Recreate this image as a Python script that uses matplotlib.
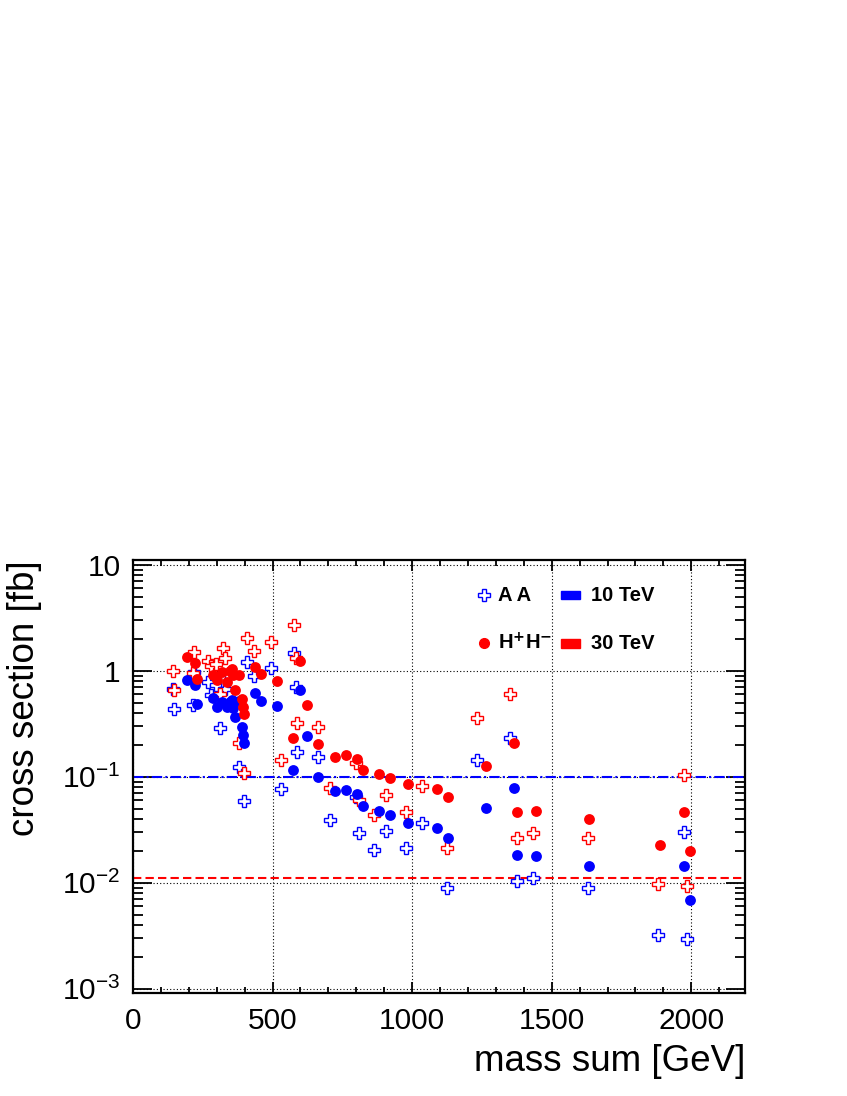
import numpy as np
import matplotlib
matplotlib.use('Agg')
import matplotlib.pyplot as plt
from matplotlib.ticker import FixedLocator, FixedFormatter, NullFormatter

plt.rcParams['font.family'] = ['Liberation Sans', 'DejaVu Sans']
plt.rcParams['mathtext.fontset'] = 'custom'
plt.rcParams['mathtext.rm'] = 'Liberation Sans'

# ---------------- data ----------------
# A A (open crosses): mass sum [GeV], sigma at 10 TeV and 30 TeV [fb]
aa_mass = [142, 147, 216, 219, 268, 278, 297, 310, 324, 330, 378, 396, 407, 433,
           493, 531, 576, 583, 588, 664, 704, 800, 811, 864, 907, 977, 1035,
           1124, 1231, 1352, 1375, 1432, 1630, 1880, 1972, 1984]
aa_10tev = [0.68, 0.435, 0.48, 0.97, 0.79, 0.59, 0.73, 0.29, 0.80, 0.68, 0.124, 0.059,
            1.20, 0.89, 1.07, 0.077, 1.47, 0.70, 0.17, 0.152, 0.039, 0.064, 0.0292,
            0.0204, 0.031, 0.0211, 0.0363, 0.00885, 0.144, 0.233, 0.0104, 0.011,
            0.009, 0.00321, 0.0299, 0.00292]
aa_30tev = [1.00, 0.66, 0.95, 1.49, 1.23, 1.12, 1.17, 0.60, 1.63, 1.31, 0.21, 0.108,
            2.02, 1.53, 1.87, 0.143, 2.72, 1.32, 0.325, 0.296, 0.079, 0.134, 0.0604,
            0.0435, 0.067, 0.0468, 0.082, 0.0211, 0.36, 0.61, 0.0266, 0.0294,
            0.0262, 0.0097, 0.104, 0.0093]

# H+H- (filled circles)
hh_mass = [192, 222, 228, 288, 300, 318, 336, 348, 354, 360, 366, 381, 390, 393, 397,
           437, 459, 517, 572, 599, 622, 664, 722, 763, 804, 825, 882, 919, 985,
           1088, 1130, 1265, 1366, 1375, 1444, 1635, 1886, 1975, 1996]
hh_10tev = [0.82, 0.73, 0.49, 0.55, 0.46, 0.51, 0.46, 0.51, 0.53, 0.45, 0.368, 0.52,
            0.296, 0.247, 0.209, 0.62, 0.52, 0.465, 0.116, 0.658, 0.242, 0.099,
            0.0728, 0.0744, 0.0687, 0.0533, 0.0475, 0.0432, 0.0368, 0.0326, 0.0264,
            0.051, 0.0787, 0.0183, 0.018, 0.0144, np.nan, 0.0144, 0.00687]
hh_30tev = [1.36, 1.19, 0.84, 0.91, 0.82, 0.98, 0.79, 1.00, 1.05, 0.91, 0.66, 0.91,
            0.537, 0.457, 0.39, 1.09, 0.93, 0.805, 0.232, 1.24, 0.472, 0.203,
            0.153, 0.16, 0.146, 0.116, 0.106, 0.097, 0.0848, 0.077, 0.064,
            0.127, 0.207, 0.0468, 0.0475, 0.0397, 0.0227, 0.0461, 0.0199]

line_10tev = 0.1
line_30tev = 0.011

BLUE = '#0000ff'
RED = '#ff0000'

# ---------------- figure ----------------
fig = plt.figure(figsize=(8.47, 10.96), dpi=100)
ax = fig.add_axes([0.157, 0.094, 0.7225, 0.395])

ax.plot(aa_mass, aa_10tev, ls='none', marker='P', ms=9, mfc='white', mec=BLUE, mew=1.0, zorder=3)
ax.plot(aa_mass, aa_30tev, ls='none', marker='P', ms=9, mfc='white', mec=RED, mew=1.0, zorder=3)
ax.plot(hh_mass, hh_10tev, ls='none', marker='o', ms=7.8, mfc=BLUE, mec=BLUE, mew=0, zorder=4)
ax.plot(hh_mass, hh_30tev, ls='none', marker='o', ms=7.8, mfc=RED, mec=RED, mew=0, zorder=4)

ax.axhline(line_10tev, color=BLUE, lw=1.5, ls=(0, (5, 1.5, 1, 1.5)), zorder=2)
ax.axhline(line_30tev, color=RED, lw=1.5, ls=(0, (4, 2)), zorder=2)

ax.set_yscale('log')
ax.set_xlim(0, 2192)
ax.set_ylim(0.00091, 11.1)

# ROOT-like ticks
ax.xaxis.set_major_locator(FixedLocator([0, 500, 1000, 1500, 2000]))
ax.xaxis.set_minor_locator(FixedLocator(np.arange(100, 2200, 100)))
ax.yaxis.set_major_locator(FixedLocator([1e-3, 1e-2, 1e-1, 1, 10]))
ax.yaxis.set_major_formatter(FixedFormatter([r'$\mathdefault{10^{-3}}$', r'$\mathdefault{10^{-2}}$',
                                             r'$\mathdefault{10^{-1}}$', '1', '10']))
ax.yaxis.set_minor_locator(FixedLocator([m * 10.0 ** e for e in range(-4, 2) for m in range(2, 10)]))
ax.yaxis.set_minor_formatter(NullFormatter())
ax.tick_params(axis='both', which='both', direction='in', top=True, right=True, width=1.3)
ax.tick_params(axis='x', which='major', length=8, labelsize=21.5, pad=10)
ax.tick_params(axis='x', which='minor', length=4)
ax.tick_params(axis='y', which='major', length=14, labelsize=21.5, pad=9)
ax.tick_params(axis='y', which='minor', length=7.5)
for s in ax.spines.values():
    s.set_linewidth(1.6)

ax.grid(True, which='major', color='black', lw=0.8, ls=(0, (1, 2)))
ax.set_axisbelow(True)

ax.set_xlabel('mass sum [GeV]', fontsize=26.5, loc='right')
ax.xaxis.set_label_coords(1.0, -0.118)
ax.xaxis.label.set_va('top')
ax.set_ylabel('cross section [fb]', fontsize=26.5, loc='top')
ax.yaxis.set_label_coords(-0.148, 1.0)

# legend (ROOT style, two columns)
tr = ax.transAxes
ax.plot([0.574], [0.919], transform=tr, marker='P', ms=8, mfc='white', mec=BLUE, mew=1.0, clip_on=False)
ax.plot([0.574], [0.808], transform=tr, marker='o', ms=7, mfc=RED, mec=RED, clip_on=False)
ax.text(0.597, 0.919, 'A A', transform=tr, fontsize=14.5, fontweight='bold', va='center', ha='left')
ax.text(0.597, 0.808, r'H$^{\mathbf{+}}$H$^{\mathbf{-}}$', transform=tr, fontsize=14.5,
        fontweight='bold', va='center', ha='left')
for yy, col, lab in [(0.919, BLUE, '10 TeV'), (0.808, RED, '30 TeV')]:
    ax.add_patch(plt.Rectangle((0.700, yy - 0.010), 0.031, 0.020, transform=tr,
                               facecolor=col, edgecolor=col, clip_on=False))
    ax.text(0.749, yy, lab, transform=tr, fontsize=14.5, fontweight='bold', va='center', ha='left')

fig.savefig('out.png', dpi=100)
